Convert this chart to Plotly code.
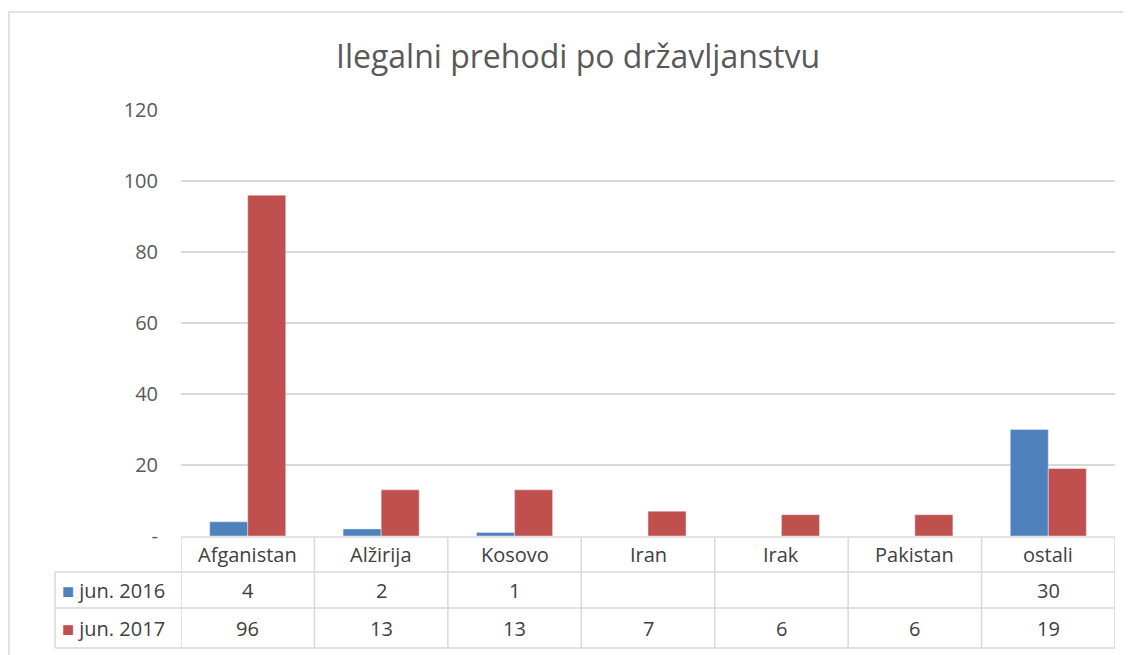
import plotly.graph_objects as go

categories = ["Afganistan", "Alžirija", "Kosovo", "Iran", "Irak", "Pakistan", "ostali"]
series_names = ["jun. 2016", "jun. 2017"]
values_2016 = [4, 2, 1, None, None, None, 30]
values_2017 = [96, 13, 13, 7, 6, 6, 19]
y_tickvals = [0, 20, 40, 60, 80, 100, 120]
y_ticktext = ["-", "20", "40", "60", "80", "100", "120"]

BLUE = "#4F81BD"
RED = "#C0504D"
GRID = "#D9D9D9"
TXT = "#595959"
FONT = "Open Sans"

OFF = 8  # browser body margin
W, H = 1131 - OFF, 655 - OFF
# reference pixel positions
REF_L, REF_R, REF_T, REF_B = 181, 1115, 110, 536
L, T = REF_L - OFF, REF_T - OFF
R = W - (REF_R - OFF)
B = H - (REF_B - OFF)
PW = W - L - R
PH = H - T - B


def py(p):
    return ((REF_B - OFF) - (p - OFF)) / PH


def px(p):
    return ((p - OFF) - (REF_L - OFF)) / PW


fig = go.Figure()
fig.add_trace(go.Bar(x=categories, y=values_2016, name=series_names[0], marker_color=BLUE))
fig.add_trace(go.Bar(x=categories, y=values_2017, name=series_names[1], marker_color=RED))

shapes = []
annotations = []

row_top = 537
row1 = 572
row2 = 608
row_bot = 648
left_col = 55

line = dict(color=GRID, width=1.5)
shapes.append(dict(type="line", xref="paper", yref="paper", x0=0, x1=1,
                   y0=py(row_top), y1=py(row_top), line=line))
for p in (row1, row2, row_bot):
    shapes.append(dict(type="line", xref="paper", yref="paper", x0=px(left_col), x1=1,
                       y0=py(p), y1=py(p), line=line))
n = len(categories)
for i in range(n + 1):
    shapes.append(dict(type="line", xref="x", yref="paper", x0=i - 0.5, x1=i - 0.5,
                       y0=py(row_top), y1=py(row_bot), line=line))
shapes.append(dict(type="line", xref="paper", yref="paper", x0=px(left_col), x1=px(left_col),
                   y0=py(row1), y1=py(row_bot), line=line))
# outer chart frame
shapes.append(dict(type="rect", xref="paper", yref="paper", x0=px(9), x1=px(1160),
                   y0=py(680), y1=py(12), line=dict(color="#D9D9D9", width=1.5)))

cell_font = dict(family=FONT, size=20, color="#404040")
header_y = py((row_top + row1) / 2)
r1_y = py((row1 + row2) / 2)
r2_y = py((row2 + row_bot) / 2)
for i, c in enumerate(categories):
    annotations.append(dict(x=c, xref="x", y=header_y, yref="paper", text=c, showarrow=False,
                            font=cell_font, xanchor="center", yanchor="middle"))
    if values_2016[i] is not None:
        annotations.append(dict(x=c, xref="x", y=r1_y, yref="paper", text=str(values_2016[i]),
                                showarrow=False, font=cell_font, xanchor="center", yanchor="middle"))
    if values_2017[i] is not None:
        annotations.append(dict(x=c, xref="x", y=r2_y, yref="paper", text=str(values_2017[i]),
                                showarrow=False, font=cell_font, xanchor="center", yanchor="middle"))

for name, color, yy in ((series_names[0], BLUE, r1_y), (series_names[1], RED, r2_y)):
    annotations.append(dict(x=px(60), xref="paper", y=yy, yref="paper",
                            text=f"<span style='color:{color};font-size:20px'>■</span> {name}",
                            showarrow=False, font=cell_font, xanchor="left", yanchor="middle"))

fig.update_layout(
    width=W, height=H,
    margin=dict(l=L, r=R, t=T, b=B),
    paper_bgcolor="white", plot_bgcolor="white",
    title=dict(text="Ilegalni prehodi po državljanstvu", x=(578 - OFF) / W, xanchor="center",
               y=1 - (57 - OFF) / H, yanchor="middle",
               font=dict(family=FONT, size=32, color=TXT)),
    barmode="group", bargap=0.43, bargroupgap=0,
    showlegend=False,
    xaxis=dict(range=[-0.5, n - 0.5], showticklabels=False, showgrid=False, zeroline=False,
               showline=False, ticks=""),
    yaxis=dict(range=[0, 120], tickvals=y_tickvals, ticktext=y_ticktext, showgrid=True,
               gridcolor=GRID, gridwidth=1.5, zeroline=False, showline=False, ticks="",
               tickfont=dict(family=FONT, size=20, color=TXT), ticklabelstandoff=22),
    shapes=shapes,
    annotations=annotations,
)

fig.write_html("out.html")
